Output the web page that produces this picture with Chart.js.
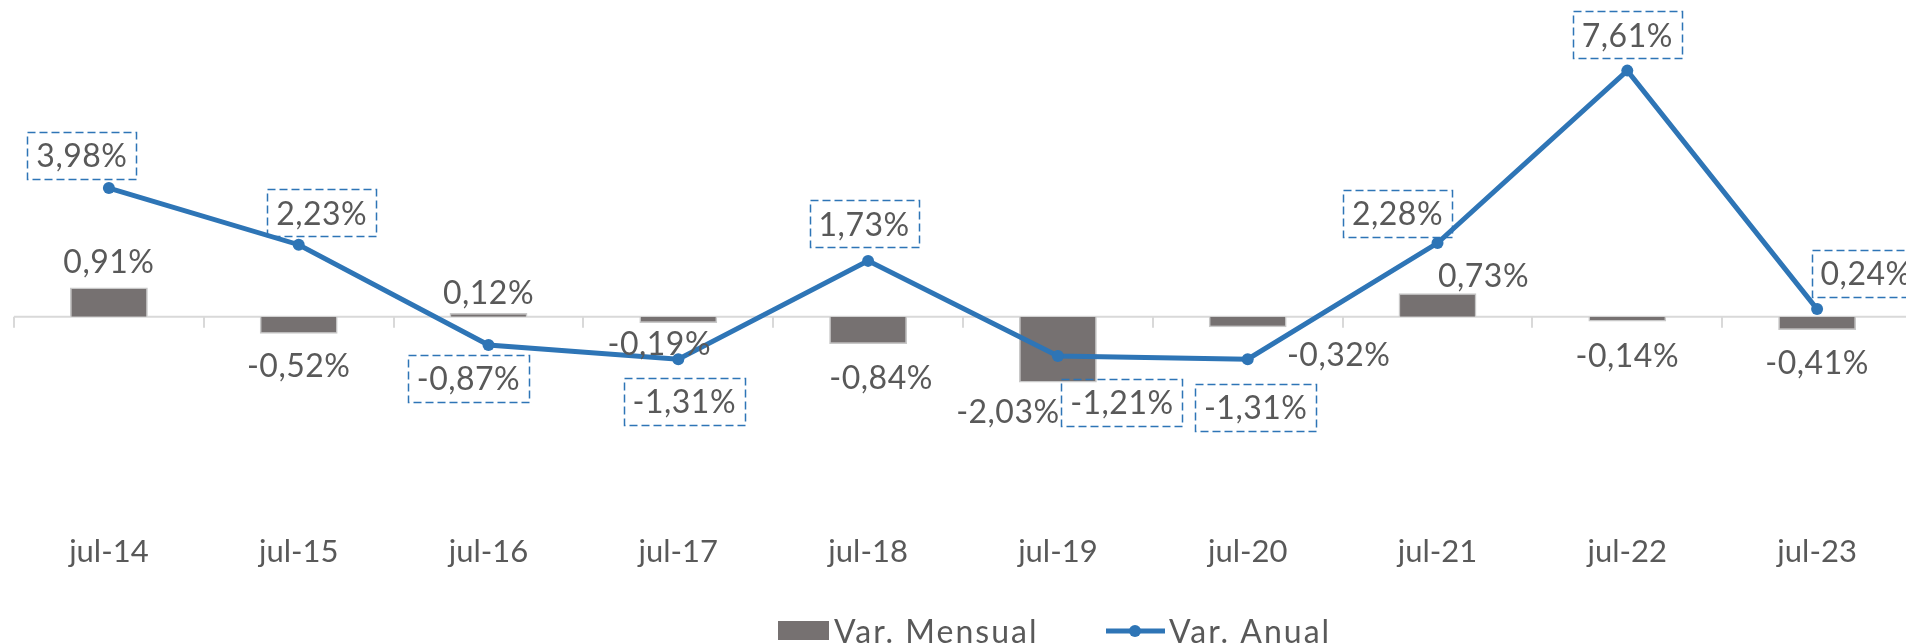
<!DOCTYPE html>
<html lang="es">
<head>
<meta charset="UTF-8">
<title>Var. Mensual y Var. Anual</title>
<style>
  html, body { margin: 0; padding: 0; background: #fff; overflow: hidden; }
  #chart { display: block; }
</style>
<script src="https://cdn.jsdelivr.net/npm/chart.js"></script>
</head>
<body>
<!-- plot runs a little past the right edge, like the original export -->
<canvas id="chart" width="1918" height="644"></canvas>
<script>
// data
const labels = ['jul-14', 'jul-15', 'jul-16', 'jul-17', 'jul-18', 'jul-19', 'jul-20', 'jul-21', 'jul-22', 'jul-23'];
const varMensual = [0.91, -0.52, 0.12, -0.19, -0.84, -2.03, -0.32, 0.73, -0.14, -0.41];
const varAnual = [3.98, 2.23, -0.87, -1.31, 1.73, -1.21, -1.31, 2.28, 7.61, 0.24];

// hand-placed label nudges (px), relative to bar tip / line point
const mensualShift = [[0, -26], [0, 31], [0, -21], [-19, 20], [13, 33], [-50, 28], [91, 27], [46, -18], [0, 34], [0, 32]];
const anualShift = [[-27, -33], [23, -32], [-20, 33], [6, 42], [-4, -37], [64, 46], [8, 48], [-40, -30], [0, -36], [49, -36]];

const FONT = 'Lato, "Open Sans", sans-serif';
const TEXT = '#595959';
const GRAY = '#767171';
const BLUE = '#2E75B6';

function fmt(v) {
    return v.toFixed(2).replace('.', ',') + '%';
}

// zero line with the little category tick marks
const zeroAxis = {
    id: 'zeroAxis',
    beforeDatasetsDraw(chart) {
        const { ctx, chartArea, scales } = chart;
        const y0 = scales.y.getPixelForValue(0);
        ctx.save();
        ctx.strokeStyle = '#D9D9D9';
        ctx.lineWidth = 2;
        ctx.beginPath();
        ctx.moveTo(chartArea.left, y0);
        ctx.lineTo(chartArea.right, y0);
        for (let i = 0; i <= labels.length; i++) {
            const x = Math.round(scales.x.getPixelForValue(i - 0.5));
            ctx.moveTo(x, y0);
            ctx.lineTo(x, y0 + 11);
        }
        ctx.stroke();
        ctx.restore();
    }
};

// data labels: plain text for bars, dashed boxes for the line
const dataLabels = {
    id: 'dataLabels',
    afterDatasetsDraw(chart) {
        const ctx = chart.ctx;
        const lineMeta = chart.getDatasetMeta(0);
        const barMeta = chart.getDatasetMeta(1);
        ctx.save();
        ctx.font = '32px ' + FONT;
        ctx.letterSpacing = '0.5px';
        ctx.fillStyle = TEXT;
        ctx.textAlign = 'center';
        ctx.textBaseline = 'alphabetic';

        barMeta.data.forEach((bar, i) => {
            const x = bar.x + mensualShift[i][0];
            const y = bar.y + mensualShift[i][1];
            ctx.fillText(fmt(varMensual[i]), x, y + 12);
        });

        lineMeta.data.forEach((pt, i) => {
            const txt = fmt(varAnual[i]);
            const cx = pt.x + anualShift[i][0];
            const cy = pt.y + anualShift[i][1];
            const w = ctx.measureText(txt).width + 18;
            const h = 47;
            ctx.fillStyle = TEXT;
            ctx.fillText(txt, cx, cy + 12);
            ctx.setLineDash([8, 4]);
            ctx.lineWidth = 1.5;
            ctx.strokeStyle = BLUE;
            ctx.strokeRect(Math.round(cx - w / 2) + 0.5, Math.round(cy - h / 2) + 0.5, Math.round(w), h);
            ctx.setLineDash([]);
        });
        ctx.restore();
    }
};

// legend drawn by hand at the bottom
const bottomLegend = {
    id: 'bottomLegend',
    afterDraw(chart) {
        const ctx = chart.ctx;
        ctx.save();
        ctx.fillStyle = GRAY;
        ctx.fillRect(778, 621, 51, 19);
        ctx.font = '32px ' + FONT;
        ctx.letterSpacing = '2px';
        ctx.fillStyle = TEXT;
        ctx.textAlign = 'left';
        ctx.textBaseline = 'alphabetic';
        ctx.fillText('Var. Mensual', 834, 643);

        ctx.strokeStyle = BLUE;
        ctx.lineWidth = 5;
        ctx.beginPath();
        ctx.moveTo(1106, 631);
        ctx.lineTo(1165, 631);
        ctx.stroke();
        ctx.fillStyle = BLUE;
        ctx.beginPath();
        ctx.arc(1135, 631, 6, 0, Math.PI * 2);
        ctx.fill();
        ctx.fillStyle = TEXT;
        ctx.fillText('Var. Anual', 1169, 643);
        ctx.restore();
    }
};

const ctx = document.getElementById('chart').getContext('2d');
const chart = new Chart(ctx, {
    data: {
        labels: labels,
        datasets: [
            {
                type: 'line',
                label: 'Var. Anual',
                data: varAnual,
                borderColor: BLUE,
                backgroundColor: BLUE,
                borderWidth: 5,
                pointRadius: 6,
                pointBorderWidth: 0,
                pointBackgroundColor: BLUE,
                tension: 0,
                order: 1
            },
            {
                type: 'bar',
                label: 'Var. Mensual',
                data: varMensual,
                backgroundColor: GRAY,
                borderColor: '#C8C8C8',
                borderWidth: 1.5,
                barPercentage: 0.41,
                categoryPercentage: 1,
                order: 2
            }
        ]
    },
    options: {
        responsive: false,
        animation: false,
        layout: { padding: { top: 58, left: 14, right: 0, bottom: 73 } },
        scales: {
            x: {
                grid: { display: false, drawTicks: false },
                border: { display: false },
                ticks: { color: TEXT, font: { family: FONT, size: 31 }, padding: 22, maxRotation: 0 },
                afterFit: (s) => { s.height = 60; }
            },
            y: { display: false, min: -6, max: 8 }
        },
        plugins: {
            legend: { display: false },
            tooltip: { enabled: false }
        }
    },
    plugins: [zeroAxis, dataLabels, bottomLegend]
});
</script>
</body>
</html>
